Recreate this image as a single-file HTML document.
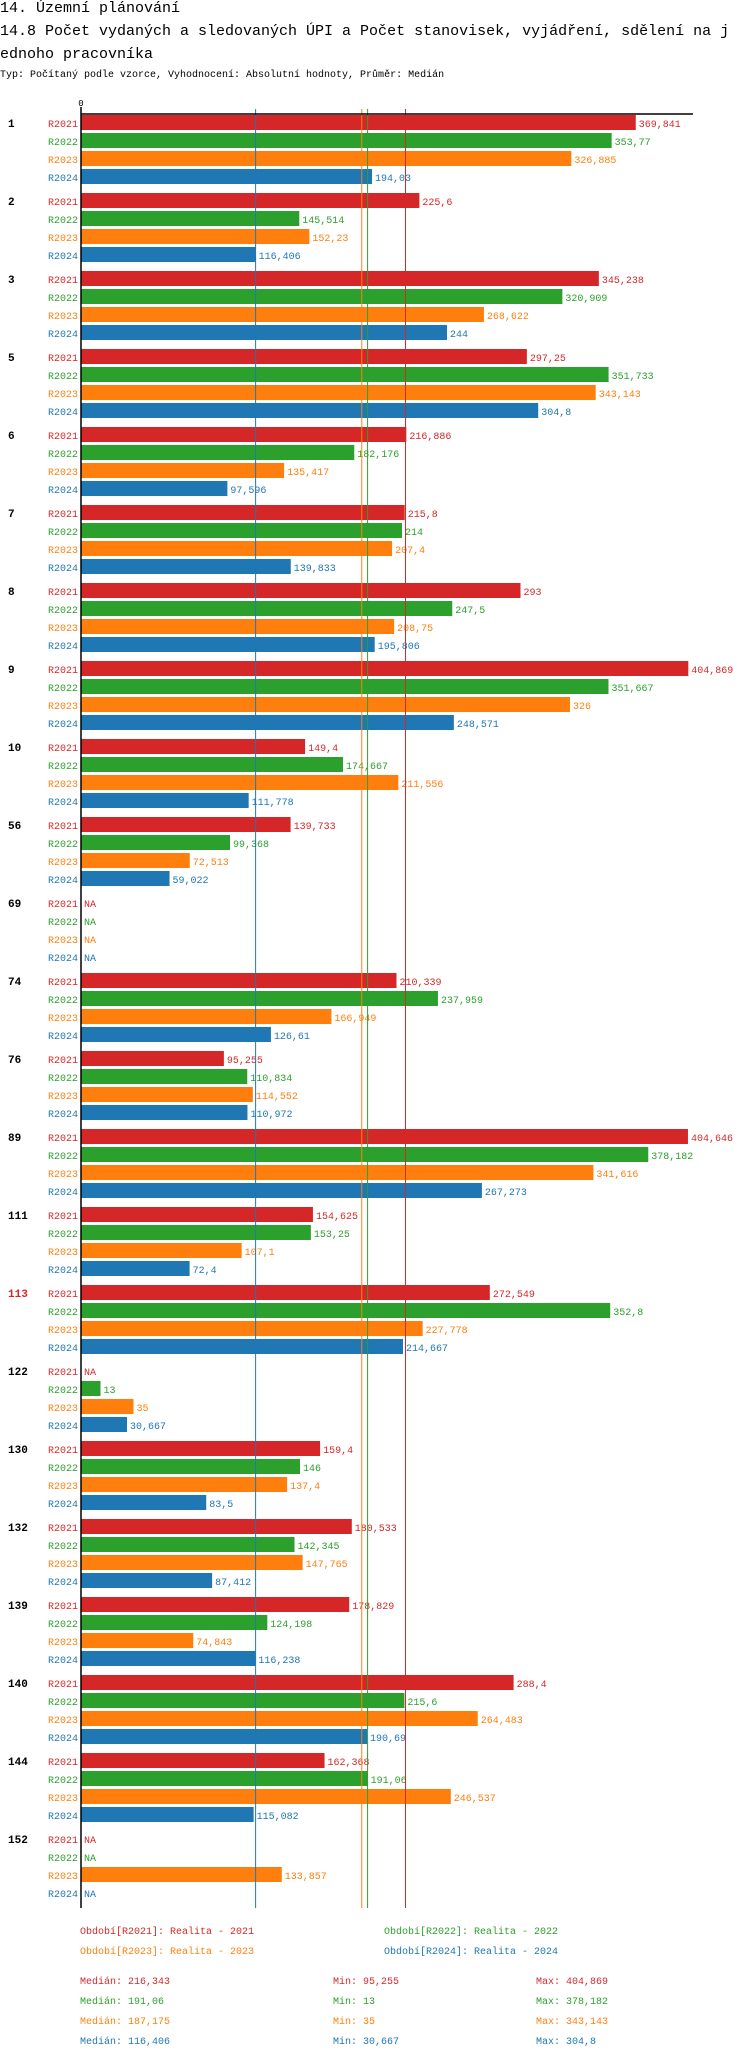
<!DOCTYPE html>
<html><head><meta charset="utf-8">
<style>
body{margin:0;background:#fff;width:750px;height:2058px;overflow:hidden;font-family:"Liberation Mono",monospace;}
svg{display:block}
</style></head>
<body>
<svg id="chart" width="750" height="2058" xmlns="http://www.w3.org/2000/svg" font-family="Liberation Mono, monospace">
<text x="0" y="12" font-size="15">14. Územní plánování</text>
<text x="0" y="35" font-size="15">14.8 Počet vydaných a sledovaných ÚPI a Počet stanovisek, vyjádření, sdělení na j</text>
<text x="0" y="58" font-size="15">ednoho pracovníka</text>
<text x="0" y="77" font-size="10">Typ: Počítaný podle vzorce, Vyhodnocení: Absolutní hodnoty, Průměr: Medián</text>
<g id="plot"></g>
</svg>
<script>
const groups = ["1","2","3","5","6","7","8","9","10","56","69","74","76","89","111","113","122","130","132","139","140","144","152"];
const seriesNames = ["R2021","R2022","R2023","R2024"];
const r2021 = [369.841,225.6,345.238,297.25,216.886,215.8,293,404.869,149.4,139.733,null,210.339,95.255,404.646,154.625,272.549,null,159.4,180.533,178.829,288.4,162.368,null];
const r2022 = [353.77,145.514,320.909,351.733,182.176,214,247.5,351.667,174.667,99.368,null,237.959,110.834,378.182,153.25,352.8,13,146,142.345,124.198,215.6,191.06,null];
const r2023 = [326.885,152.23,268.622,343.143,135.417,207.4,208.75,326,211.556,72.513,null,166.949,114.552,341.616,107.1,227.778,35,137.4,147.765,74.843,264.483,246.537,133.857];
const r2024 = [194.03,116.406,244,304.8,97.596,139.833,195.806,248.571,111.778,59.022,null,126.61,110.972,267.273,72.4,214.667,30.667,83.5,87.412,116.238,190.69,115.082,null];
const medians = [216.343,191.06,187.175,116.406];
const mins = ["95,255","13","35","30,667"];
const maxs = ["404,869","378,182","343,143","304,8"];
const medianLabels = ["216,343","191,06","187,175","116,406"];
const legendLabels = ["Období[R2021]: Realita - 2021","Období[R2022]: Realita - 2022","Období[R2023]: Realita - 2023","Období[R2024]: Realita - 2024"];

const colors = ["#d62728","#2ca02c","#ff7f0e","#1f77b4"];
const series = [r2021,r2022,r2023,r2024];
const X0 = 81, PX = 1.5, AXIS_Y = 114, GROUP_PITCH = 78, ROW_PITCH = 18, FIRST_ROW = 123, BAR_H = 15;
const xScale = v => X0 + v * PX;
const rowY = (g, s) => FIRST_ROW + g * GROUP_PITCH + s * ROW_PITCH;
const NS = "http://www.w3.org/2000/svg";
const plot = document.getElementById("plot");
function mk(tag, attrs, text){const e=document.createElementNS(NS,tag);for(const k in attrs)e.setAttribute(k,attrs[k]);if(text!==undefined)e.textContent=text;plot.appendChild(e);return e;}
const fmt = v => String(+v.toFixed(3)).replace(".",",");
const bottom = rowY(groups.length-1,3) + 15;

groups.forEach((g, gi) => {
  const gl = mk("text",{x:8,y:rowY(gi,0)+4,"font-size":11,"font-weight":"bold",fill:g==="113"?"#d62728":"#000"},g);
  
  
  series.forEach((arr, si) => {
    const y = rowY(gi, si);
    const sl = mk("text",{x:78,y:y+4,"font-size":10,"text-anchor":"end",fill:colors[si]},seriesNames[si]);
    
    
    const v = arr[gi];
    if (v === null) {
      const na = mk("text",{x:X0+3,y:y+4,"font-size":10,fill:colors[si]},"NA");
      
      
    } else {
      const b = mk("rect",{x:X0,y:y-8,width:xScale(v)-X0,height:BAR_H,fill:colors[si]});
      
      
      const vl = mk("text",{x:xScale(v)+3,y:y+4,"font-size":10,fill:colors[si]},fmt(v));
      
      
    }
  });
});

medians.forEach((m, i) => {
  const l = mk("line",{x1:xScale(m),x2:xScale(m),y1:AXIS_Y-5,y2:bottom,stroke:colors[i],"stroke-width":1});
  
  
});
const ax = mk("line",{x1:X0,x2:693,y1:AXIS_Y,y2:AXIS_Y,stroke:"#000","stroke-width":1.5});


const ay = mk("line",{x1:X0,x2:X0,y1:AXIS_Y-7,y2:bottom,stroke:"#000","stroke-width":1.5});


const z = mk("text",{x:X0,y:AXIS_Y-8,"font-size":9,"text-anchor":"middle"},"0");



const legX = [80,384];
legendLabels.forEach((t,i) => {
  const e = mk("text",{x:legX[i%2],y:1934+Math.floor(i/2)*20,"font-size":10,fill:colors[i]},t);
  
  
});
medianLabels.forEach((t,i) => {
  const y = 1984 + i*20;
  const a = mk("text",{x:80,y:y,"font-size":10,fill:colors[i]},"Medián: "+t);
  
  
  const b = mk("text",{x:333,y:y,"font-size":10,fill:colors[i]},"Min: "+mins[i]);
  
  
  const c = mk("text",{x:536,y:y,"font-size":10,fill:colors[i]},"Max: "+maxs[i]);
  
  
});
</script>
</body></html>
